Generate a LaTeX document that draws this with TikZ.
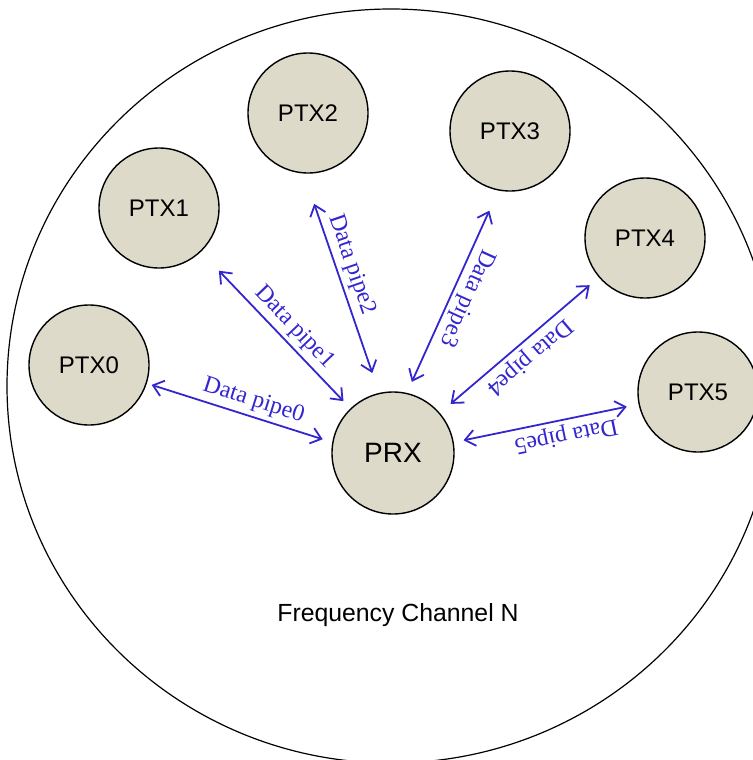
\documentclass[tikz,border=0pt]{standalone}
\usepackage{fontspec}
\setmainfont{Liberation Serif}
\setsansfont{Liberation Sans}
\usepackage{xcolor}
\usetikzlibrary{arrows.meta}

\definecolor{pipeblue}{RGB}{52,38,206}
\definecolor{stationfill}{RGB}{221,218,201}

\begin{document}
\begin{tikzpicture}[x=0.5pt, y=-0.5pt,
    station/.style={circle, draw, line width=0.7pt, fill=stationfill, minimum size=60pt, inner sep=0pt, font=\sffamily\fontsize{12}{14}\selectfont},
    pipe/.style={draw=pipeblue, line width=0.9pt, {Straight Barb[length=5pt,width=8pt]}-{Straight Barb[length=5pt,width=8pt]}},
    pipelabel/.style={sloped, above, allow upside down, text=pipeblue, inner sep=2pt, font=\fontsize{12}{14}\selectfont}]
    \useasboundingbox (0,0) rectangle (753,760);
    \clip (0,0) rectangle (753,760);
    \draw[line width=0.6pt] (391,386) ellipse [x radius=192pt, y radius=188.5pt];
    \node (chan) at (398,615) {\sffamily\fontsize{12.4}{14}\selectfont Frequency Channel N};
    \node[station] (ptx0) at (89,365) {PTX0};
    \node[station] (ptx1) at (159,208) {PTX1};
    \node[station] (ptx2) at (308,113) {PTX2};
    \node[station] (ptx3) at (510,131) {PTX3};
    \node[station] (ptx4) at (645,238) {PTX4};
    \node[station] (ptx5) at (698,392) {PTX5};
    \node[station, minimum size=61pt, font=\sffamily\fontsize{14}{16}\selectfont] (prx) at (393,453) {PRX};
    \draw[pipe, shorten <=2.5pt, shorten >=5pt] (ptx0) -- node[pipelabel, pos=0.55] {Data pipe0} (prx.170);
    \draw[pipe, shorten <=13pt, shorten >=5pt] (ptx1) -- node[pipelabel, pos=0.55] {Data pipe1} (prx);
    \draw[pipe, shorten <=16pt, shorten >=10.5pt] (ptx2.-94) -- node[pipelabel, pos=0.44] {Data pipe2} (prx.103);
    \draw[pipe, shorten <=11pt, shorten >=6pt] (ptx3.-101) -- node[pipelabel, pos=0.5] {Data pipe3} (prx.77);
    \draw[pipe, shorten <=6pt, shorten >=7pt] (ptx4) -- node[pipelabel, pos=0.5] {Data pipe4} (prx);
    \draw[pipe, shorten <=6pt, shorten >=5pt] (ptx5) -- node[pipelabel, pos=0.41] {Data pipe5} (prx.10);
\end{tikzpicture}
\end{document}
